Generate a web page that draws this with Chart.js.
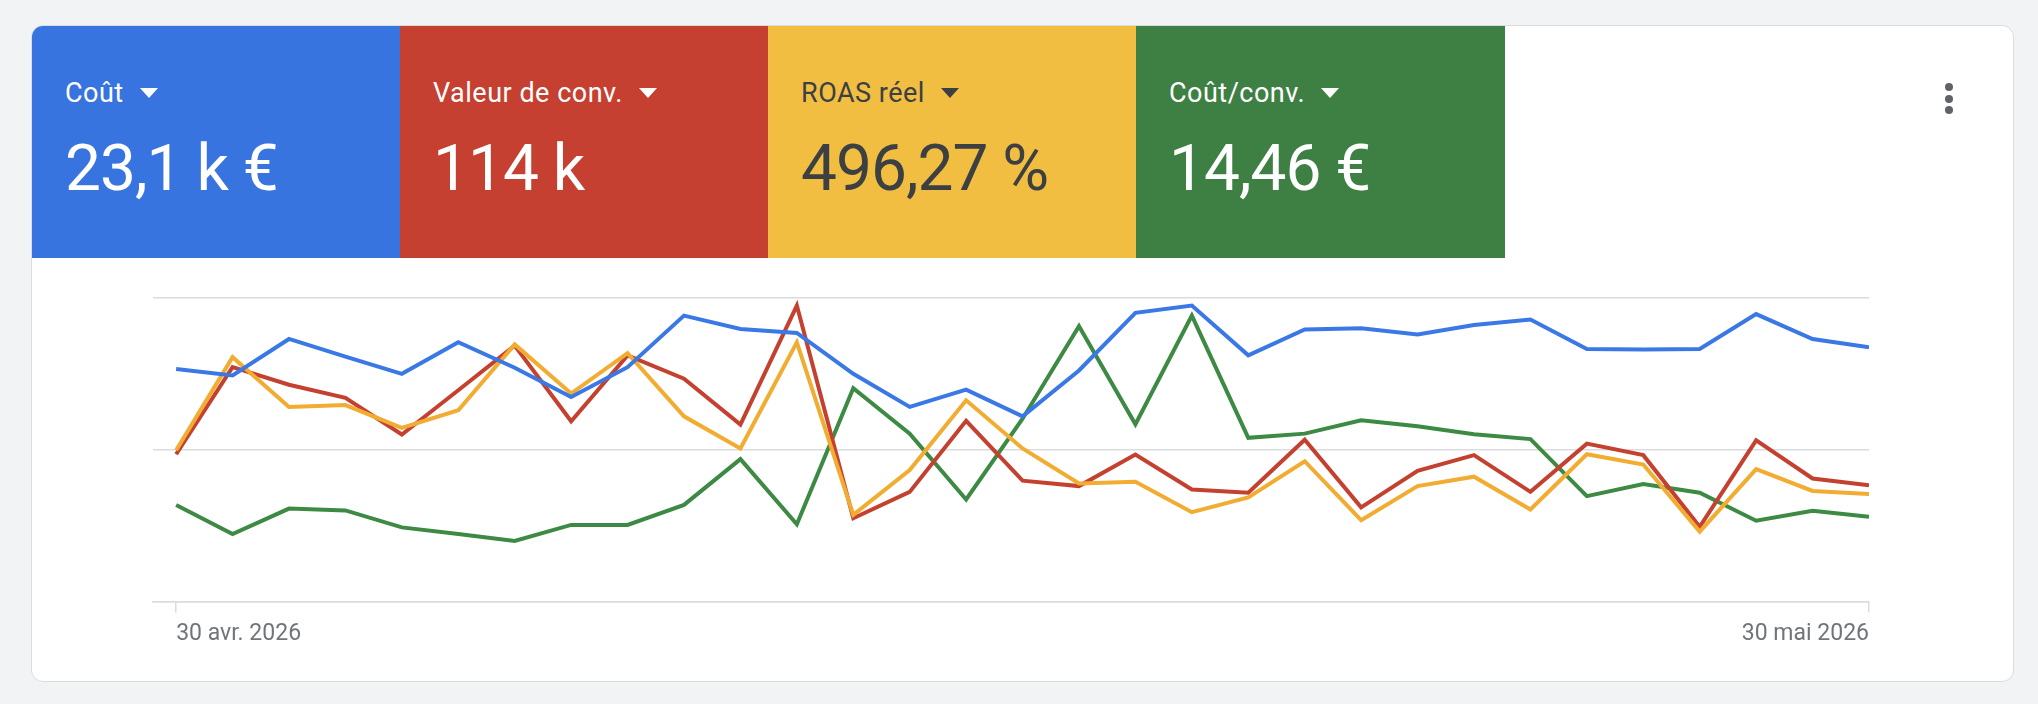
<!DOCTYPE html>
<html lang="fr">
<head>
<meta charset="utf-8">
<title>Coût / Valeur de conv. / ROAS réel / Coût/conv.</title>
<script src="https://cdn.jsdelivr.net/npm/chart.js@4.4.1/dist/chart.umd.min.js"></script>
<style>
    html, body {
        margin: 0;
        padding: 0;
        background: #f1f3f4;
        width: 2038px;
        height: 704px;
        overflow: hidden;
        font-family: Roboto, "Noto Sans", Arial, sans-serif;
    }
    .card {
        position: absolute;
        left: 31px;
        top: 25px;
        width: 1983px;
        height: 657px;
        box-sizing: border-box;
        border: 1px solid #dadce0;
        border-radius: 12px;
        background: #fff;
        overflow: hidden;
    }
    .tile {
        position: absolute;
        top: 0;
        height: 232px;
    }
    .tile .label {
        position: absolute;
        left: 33px;
        top: 54px;
        font-size: 27px;
        line-height: 27px;
        letter-spacing: 0.5px;
        white-space: nowrap;
    }
    .tile .caret {
        display: inline-block;
        width: 0;
        height: 0;
        margin-left: 16px;
        border-left: 9.5px solid transparent;
        border-right: 9.5px solid transparent;
        border-top: 10px solid currentColor;
        position: relative;
        top: -4px;
    }
    .tile .value {
        position: absolute;
        left: 33px;
        top: 111px;
        font-size: 64px;
        line-height: 64px;
        letter-spacing: -1px;
        white-space: nowrap;
    }
    .kebab {
        position: absolute;
        left: 1913px;
        top: 57px;
        width: 8px;
    }
    .kebab span {
        display: block;
        width: 8px;
        height: 8px;
        border-radius: 50%;
        background: #5f6368;
        margin-bottom: 3.7px;
    }
    #wrap {
        position: absolute;
        left: 120px;
        top: 270px;
        width: 1780px;
        height: 400px;
    }
</style>
</head>
<body>
<div class="card">
    <div id="tiles"></div>
    <div class="kebab"><span></span><span></span><span></span></div>
</div>
<div id="wrap"><canvas id="chart"></canvas></div>
<script>
// Summary tiles
const metricNames = ['Coût', 'Valeur de conv.', 'ROAS réel', 'Coût/conv.'];
const metricTotals = ['23,1 k €', '114 k', '496,27 %', '14,46 €'];
const tileColors = ['#3874e0', '#c54030', '#f1be42', '#3e8044'];
const tileTextColors = ['#ffffff', '#ffffff', '#3c4043', '#ffffff'];
const lineColors = ['#3a78e6', '#c5412f', '#f1ac31', '#3c8a43'];

// 30 avr. 2026 -> 30 mai 2026, one point per day
const days = [
    '2026-04-30', '2026-05-01', '2026-05-02', '2026-05-03', '2026-05-04', '2026-05-05',
    '2026-05-06', '2026-05-07', '2026-05-08', '2026-05-09', '2026-05-10', '2026-05-11',
    '2026-05-12', '2026-05-13', '2026-05-14', '2026-05-15', '2026-05-16', '2026-05-17',
    '2026-05-18', '2026-05-19', '2026-05-20', '2026-05-21', '2026-05-22', '2026-05-23',
    '2026-05-24', '2026-05-25', '2026-05-26', '2026-05-27', '2026-05-28', '2026-05-29',
    '2026-05-30'
];
const xTickLabels = ['30 avr. 2026', '30 mai 2026'];

// each metric has its own (hidden) scale, shown here relative to the chart height: 0..100
const cout = [76.6, 74.5, 86.5, 80.7, 75.0, 85.4, 77.0, 67.4, 77.2, 94.2, 89.8, 88.5, 75.0, 64.1, 69.8, 61.0,
    76.1, 95.1, 97.5, 81.1, 89.6, 90.0, 88.0, 91.1, 92.9, 83.2, 83.0, 83.2, 94.7, 86.5, 83.8];
const valeurConv = [48.5, 77.2, 71.4, 67.1, 55.0, 69.6, 84.3, 59.4, 81.1, 73.4, 58.3, 97.5, 27.4, 36.1, 59.5, 39.8,
    38.0, 48.4, 36.9, 35.8, 53.3, 31.0, 43.0, 48.2, 36.1, 52.0, 48.2, 24.6, 53.1, 40.5, 38.3];
const roasReel = [49.8, 80.5, 64.1, 64.7, 57.2, 63.0, 84.7, 68.5, 81.8, 61.0, 50.4, 85.4, 28.5, 43.3, 66.3, 50.4,
    38.9, 39.4, 29.4, 34.3, 46.2, 26.8, 38.0, 41.1, 30.3, 48.5, 45.1, 23.0, 43.6, 36.4, 35.4];
const coutConv = [31.8, 22.2, 30.6, 30.0, 24.4, 22.2, 19.9, 25.2, 25.2, 31.8, 46.9, 25.4, 70.3, 55.3, 33.6, 60.2,
    90.7, 58.4, 94.2, 53.9, 55.3, 59.7, 57.7, 55.1, 53.5, 34.7, 38.7, 35.8, 26.6, 29.9, 27.9];

// build the tiles
const tilesEl = document.getElementById('tiles');
metricNames.forEach(function(name, i) {
    const tile = document.createElement('div');
    tile.className = 'tile';
    tile.style.left = (i * 368) + 'px';
    tile.style.width = (i === 3 ? 369 : 368) + 'px';
    tile.style.background = tileColors[i];
    tile.style.color = tileTextColors[i];

    const label = document.createElement('div');
    label.className = 'label';
    label.textContent = name;
    const caret = document.createElement('span');
    caret.className = 'caret';
    label.appendChild(caret);

    const value = document.createElement('div');
    value.className = 'value';
    value.textContent = metricTotals[i];

    tile.appendChild(label);
    tile.appendChild(value);
    tilesEl.appendChild(tile);
});

function toPoints(values) {
    return values.map(function(v, i) { return { x: i, y: v }; });
}

const series = [cout, valeurConv, roasReel, coutConv];
// drawing order: first dataset ends up on top
const drawOrder = [0, 2, 1, 3];

const ctx = document.getElementById('chart').getContext('2d');
new Chart(ctx, {
    type: 'line',
    data: {
        datasets: drawOrder.map(function(k) {
            return {
                label: metricNames[k],
                data: toPoints(series[k]),
                borderColor: lineColors[k],
                backgroundColor: lineColors[k],
                borderWidth: 4,
                pointRadius: 0,
                tension: 0,
                fill: false
            };
        })
    },
    options: {
        responsive: true,
        maintainAspectRatio: false,
        animation: false,
        layout: {
            padding: { left: 33, right: 31, top: 28, bottom: 14 }
        },
        plugins: {
            legend: { display: false },
            tooltip: { enabled: false }
        },
        scales: {
            x: {
                type: 'linear',
                min: -0.41,
                max: days.length - 1,
                afterBuildTicks: function(scale) {
                    scale.ticks = [{ value: 0 }, { value: days.length - 1 }];
                },
                grid: {
                    drawOnChartArea: false,
                    drawTicks: true,
                    tickLength: 11,
                    color: '#dadce0',
                    lineWidth: 1.5
                },
                border: { display: true, color: '#dadce0', width: 1.5 },
                ticks: {
                    autoSkip: false,
                    maxRotation: 0,
                    align: 'inner',
                    padding: 8,
                    color: '#70757a',
                    font: { family: 'Roboto', size: 23 },
                    callback: function(value) {
                        return value === 0 ? xTickLabels[0] : xTickLabels[1];
                    }
                }
            },
            y: {
                min: 0,
                max: 100,
                ticks: { display: false, stepSize: 50 },
                grid: { color: '#dadce0', lineWidth: 1.5, drawTicks: false },
                border: { display: false }
            }
        }
    }
});
</script>
</body>
</html>
